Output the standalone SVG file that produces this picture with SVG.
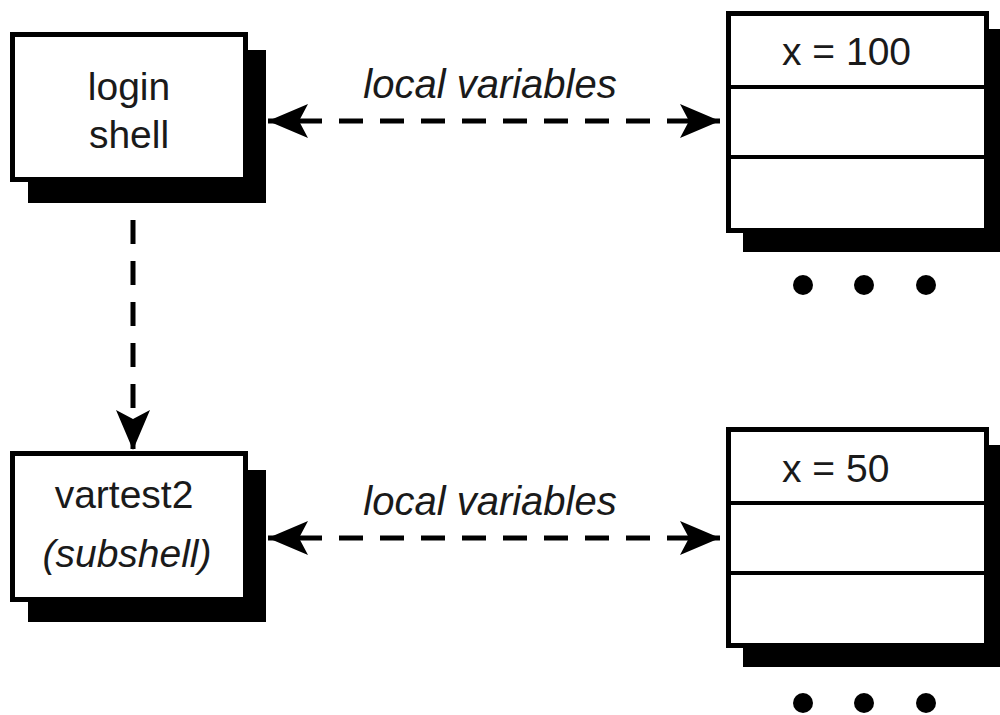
<svg xmlns="http://www.w3.org/2000/svg" width="1000" height="715" viewBox="0 0 1000 715">
<defs>
<style>
.box{fill:#fff;stroke:#000;stroke-width:5}
.shadow{fill:#000}
.div{stroke:#000;stroke-width:4}
.t{font-family:"Liberation Sans",Arial,sans-serif;font-size:39px;fill:#1a1a1a}
.i{font-style:italic}
.lv{font-size:40px}
.conn{fill:none;stroke:#000;stroke-width:5;stroke-dasharray:24 17}
</style>
<marker id="ah" markerUnits="userSpaceOnUse" markerWidth="44" markerHeight="40" viewBox="-42 -20 44 40" refX="0" refY="0" orient="auto-start-reverse">
<path d="M0,0 L-40,-17 L-31,0 L-40,17 Z" fill="#000"/>
</marker>
</defs>
<rect width="1000" height="715" fill="#fff"/>

<g id="login-shell">
<rect class="shadow" x="28" y="50" width="238" height="153"/>
<rect class="box" x="12.5" y="34.5" width="233" height="145"/>
<text class="t" x="129" y="100" text-anchor="middle">login</text>
<text class="t" x="129" y="148" text-anchor="middle">shell</text>
</g>

<g id="vartest2">
<rect class="shadow" x="28" y="470" width="238" height="152"/>
<rect class="box" x="12.5" y="453.5" width="233" height="146"/>
<text class="t" x="124" y="508" text-anchor="middle">vartest2</text>
<text class="t i" x="127" y="567" text-anchor="middle">(subshell)</text>
</g>

<g id="vars-top">
<rect class="shadow" x="743" y="29" width="262" height="223"/>
<rect class="box" x="728.5" y="13.5" width="258" height="217"/>
<line class="div" x1="728" y1="87" x2="987" y2="87"/>
<line class="div" x1="728" y1="157" x2="987" y2="157"/>
<text class="t" x="782" y="65">x = 100</text>
<circle cx="803" cy="285" r="10"/>
<circle cx="864" cy="285" r="10"/>
<circle cx="926" cy="285" r="10"/>
</g>

<g id="vars-bottom">
<rect class="shadow" x="743" y="445" width="262" height="222"/>
<rect class="box" x="728.5" y="429.5" width="258" height="216"/>
<line class="div" x1="728" y1="503" x2="987" y2="503"/>
<line class="div" x1="728" y1="573" x2="987" y2="573"/>
<text class="t" x="782" y="482">x = 50</text>
<circle cx="803" cy="703" r="10"/>
<circle cx="864" cy="703" r="10"/>
<circle cx="926" cy="703" r="10"/>
</g>

<g id="connectors">
<line class="conn" x1="268" y1="121" x2="720" y2="121" marker-start="url(#ah)" marker-end="url(#ah)" stroke-dashoffset="-30"/>
<text class="t i lv" x="490" y="98" text-anchor="middle">local variables</text>
<line class="conn" x1="268" y1="538" x2="720" y2="538" marker-start="url(#ah)" marker-end="url(#ah)" stroke-dashoffset="-30"/>
<text class="t i lv" x="490" y="515" text-anchor="middle">local variables</text>
<line class="conn" x1="133" y1="220" x2="133" y2="450" marker-end="url(#ah)"/>
</g>
</svg>
